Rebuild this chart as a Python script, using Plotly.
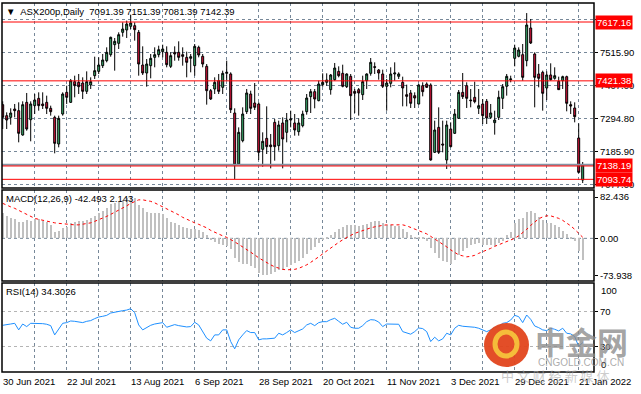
import plotly.graph_objects as go

# ---------------- data ----------------
date_labels = ["30 Jun 2021", "22 Jul 2021", "13 Aug 2021", "6 Sep 2021", "28 Sep 2021",
               "20 Oct 2021", "11 Nov 2021", "3 Dec 2021", "29 Dec 2021", "21 Jan 2022"]
label_step = 16   # bars between date labels
grid_step = 8     # bars between vertical grid lines

ohlc = [
    (7342.2, 7353.3, 7261.2, 7300.0), (7305.6, 7316.6, 7261.2, 7291.1), (7300.0, 7330.0, 7275.6, 7314.4),
    (7327.7, 7344.4, 7300.0, 7322.2), (7322.2, 7349.9, 7216.8, 7246.8), (7241.2, 7353.3, 7239.0, 7342.2),
    (7349.9, 7381.0, 7255.6, 7261.2), (7292.2, 7353.3, 7220.2, 7344.4), (7338.8, 7377.6, 7311.1, 7357.7),
    (7363.2, 7383.2, 7322.2, 7338.8), (7344.4, 7383.2, 7327.7, 7338.8), (7349.9, 7372.1, 7311.1, 7330.0),
    (7330.0, 7338.8, 7305.6, 7318.9), (7300.0, 7305.6, 7180.2, 7213.5), (7211.3, 7305.6, 7200.2, 7296.7),
    (7311.1, 7383.2, 7305.6, 7377.6), (7383.2, 7405.4, 7344.4, 7366.6), (7349.9, 7427.6, 7347.7, 7422.0),
    (7418.7, 7438.6, 7366.6, 7405.4), (7416.5, 7444.2, 7377.6, 7402.0), (7414.2, 7433.1, 7361.0, 7386.5),
    (7386.5, 7453.0, 7377.6, 7418.7), (7407.6, 7433.1, 7394.3, 7418.7), (7438.6, 7501.8, 7427.6, 7455.3),
    (7453.0, 7499.6, 7444.2, 7474.1), (7471.9, 7510.7, 7464.1, 7490.8), (7488.5, 7532.9, 7483.0, 7516.3),
    (7508.5, 7568.4, 7501.8, 7566.2), (7541.8, 7564.0, 7455.3, 7552.9), (7546.2, 7582.8, 7527.4, 7575.0),
    (7582.8, 7616.1, 7568.4, 7593.9), (7590.6, 7621.6, 7564.0, 7610.5), (7602.8, 7641.6, 7593.9, 7613.9),
    (7605.0, 7616.1, 7555.1, 7591.7), (7582.8, 7590.6, 7438.6, 7477.4), (7474.1, 7536.2, 7440.9, 7447.5),
    (7447.5, 7494.1, 7402.0, 7477.4), (7471.9, 7510.7, 7429.8, 7496.3), (7499.6, 7532.9, 7466.4, 7508.5),
    (7508.5, 7538.4, 7499.6, 7525.1), (7518.5, 7541.8, 7499.6, 7527.4), (7516.3, 7536.2, 7466.4, 7475.2),
    (7469.7, 7516.3, 7464.1, 7505.2), (7516.3, 7536.2, 7488.5, 7510.7), (7516.3, 7552.9, 7488.5, 7499.6),
    (7508.5, 7532.9, 7471.9, 7503.0), (7499.6, 7518.5, 7433.1, 7483.0), (7496.3, 7510.7, 7449.7, 7501.8),
    (7471.9, 7544.0, 7438.6, 7536.2), (7532.9, 7538.4, 7499.6, 7507.4), (7503.0, 7510.7, 7466.4, 7477.4),
    (7469.7, 7477.4, 7342.2, 7388.7), (7388.7, 7394.3, 7357.7, 7361.0), (7394.3, 7433.1, 7377.6, 7416.5),
    (7422.0, 7444.2, 7377.6, 7386.5), (7399.8, 7455.3, 7377.6, 7446.4), (7446.4, 7488.5, 7422.0, 7449.7),
    (7444.2, 7449.7, 7314.4, 7325.5), (7314.4, 7330.0, 7094.9, 7141.4), (7144.8, 7266.7, 7141.4, 7250.1),
    (7222.4, 7333.3, 7216.8, 7311.1), (7318.9, 7394.3, 7311.1, 7381.0), (7377.6, 7388.7, 7311.1, 7330.0),
    (7347.7, 7414.2, 7324.4, 7333.3), (7344.4, 7349.9, 7158.1, 7183.6), (7193.6, 7250.1, 7135.9, 7220.2),
    (7230.1, 7336.6, 7178.0, 7202.4), (7208.0, 7244.6, 7130.3, 7202.4), (7283.4, 7294.5, 7155.8, 7202.4),
    (7205.7, 7288.9, 7189.1, 7274.5), (7281.2, 7300.0, 7130.3, 7227.9), (7250.1, 7314.4, 7216.8, 7291.1),
    (7291.1, 7322.2, 7266.7, 7294.5), (7281.2, 7311.1, 7239.0, 7257.9), (7252.3, 7296.7, 7239.0, 7281.2),
    (7272.3, 7322.2, 7266.7, 7311.1), (7318.9, 7377.6, 7308.9, 7364.3), (7368.8, 7394.3, 7314.4, 7385.4),
    (7385.4, 7394.3, 7330.0, 7361.0), (7355.5, 7422.0, 7353.3, 7410.9), (7408.7, 7446.4, 7402.0, 7416.5),
    (7416.5, 7446.4, 7405.4, 7424.2), (7392.1, 7444.2, 7375.4, 7440.9), (7425.3, 7480.8, 7422.0, 7464.1),
    (7453.0, 7469.7, 7433.1, 7438.6), (7446.4, 7475.2, 7399.8, 7403.2), (7402.0, 7446.4, 7397.6, 7444.2),
    (7436.4, 7444.2, 7291.1, 7372.1), (7386.5, 7394.3, 7314.4, 7379.9), (7392.1, 7397.6, 7305.6, 7381.0),
    (7375.4, 7438.6, 7357.7, 7418.7), (7422.0, 7446.4, 7394.3, 7444.2), (7446.4, 7497.4, 7438.6, 7483.0),
    (7468.6, 7483.0, 7444.2, 7466.4), (7457.5, 7460.8, 7425.3, 7447.5), (7444.2, 7458.6, 7397.6, 7403.2),
    (7403.2, 7427.6, 7322.2, 7414.2), (7413.1, 7466.4, 7399.8, 7444.2), (7444.2, 7483.0, 7422.0, 7447.5),
    (7436.4, 7449.7, 7427.6, 7444.2), (7416.5, 7435.3, 7336.6, 7397.6), (7375.4, 7408.7, 7336.6, 7369.9),
    (7381.0, 7391.0, 7331.1, 7346.6), (7372.1, 7383.2, 7331.1, 7364.3), (7344.4, 7410.9, 7342.2, 7407.6),
    (7405.4, 7416.5, 7369.9, 7385.4), (7410.9, 7416.5, 7397.6, 7399.8), (7407.6, 7413.1, 7155.8, 7158.1),
    (7183.6, 7288.9, 7181.3, 7257.9), (7266.7, 7333.3, 7178.0, 7183.6), (7211.3, 7288.9, 7183.6, 7208.0),
    (7158.1, 7288.9, 7128.1, 7274.5), (7261.2, 7283.4, 7200.2, 7202.4), (7246.8, 7327.7, 7244.6, 7311.1),
    (7296.7, 7390.9, 7294.5, 7383.2), (7383.2, 7447.5, 7361.0, 7368.8), (7405.4, 7416.5, 7331.1, 7363.2),
    (7357.7, 7394.3, 7333.3, 7355.5), (7366.6, 7418.7, 7346.6, 7352.1), (7330.0, 7394.3, 7311.1, 7338.8),
    (7344.4, 7361.0, 7277.8, 7305.6), (7353.3, 7361.0, 7277.8, 7297.8), (7300.0, 7344.4, 7294.5, 7314.4),
    (7282.3, 7322.2, 7242.4, 7291.1), (7300.0, 7388.7, 7291.1, 7366.6), (7363.2, 7410.9, 7327.7, 7402.0),
    (7403.2, 7444.2, 7372.1, 7436.4), (7425.3, 7438.6, 7416.5, 7427.6), (7496.3, 7541.8, 7469.7, 7530.7),
    (7503.0, 7532.9, 7499.6, 7524.0), (7508.5, 7544.0, 7422.0, 7433.1), (7488.5, 7646.9, 7469.7, 7607.2),
    (7597.2, 7627.2, 7544.0, 7547.3), (7510.7, 7516.3, 7333.3, 7433.1), (7444.2, 7477.4, 7399.8, 7429.8),
    (7449.7, 7455.3, 7322.2, 7379.9), (7397.6, 7453.0, 7357.7, 7440.9), (7440.9, 7479.7, 7422.0, 7425.3),
    (7429.8, 7466.4, 7425.3, 7438.6), (7419.8, 7435.3, 7391.0, 7392.1), (7422.0, 7438.6, 7394.3, 7435.3),
    (7435.3, 7438.6, 7320.0, 7346.6), (7342.2, 7353.3, 7311.1, 7337.7), (7331.1, 7349.9, 7283.4, 7302.2),
    (7231.3, 7280.0, 7113.7, 7117.0), (7091.39, 7151.39, 7081.39, 7142.39),
]
open_ = [r[0] for r in ohlc]
high = [r[1] for r in ohlc]
low = [r[2] for r in ohlc]
close = [r[3] for r in ohlc]

macd = [50, 45, 41, 38, 32, 33, 37, 35, 38, 38, 35, 33, 27, 13, 15, 20, 23, 30, 33, 35,
        34, 37, 40, 45, 51, 55, 60, 68, 70, 73, 77, 80, 82.436, 81, 67, 60, 53, 50, 50, 50,
        48, 40, 33, 30, 27, 23, 20, 18, 18, 17, 13, 7, -3, -8, -12, -14, -15, -22, -40, -48,
        -52, -52, -55, -60, -70, -73.938, -73, -72, -68, -64, -63, -58, -53, -50, -46, -40, -32, -24, -18, -10,
        -4, 1, 6, 12, 18, 22, 27, 27, 26, 24, 26, 29, 33, 35, 34, 30, 27, 26, 25, 24,
        19, 12, 6, 2, 3, 3, -6, -20, -29, -40, -45, -47, -51, -43, -33, -25, -20, -13, -11, -9,
        -13, -13, -13, -15, -10, -5, 7, 13, 30, 38, 40, 52, 55, 50, 43, 37, 31, 30, 27, 23,
        15, 8, 2, -6, -26, -42.493]
signal = [70, 66, 63, 60, 56, 52, 48, 43, 40, 38, 36, 34, 32, 31, 30, 29, 28, 27, 27, 27,
          28, 29, 31, 34, 37, 40, 44, 48, 52, 56, 60, 65, 70, 74, 77, 77, 76, 74, 71, 67,
          64, 60, 56, 52, 47, 42, 38, 34, 31, 28, 25, 21, 16, 12, 8, 5, 2, -2, -7, -12,
          -17, -22, -28, -33, -39, -44, -49, -53, -57, -60, -62, -63, -63, -62, -60, -57, -53, -48, -43, -37,
          -31, -25, -19, -13, -8, -3, 2, 6, 10, 13, 16, 19, 21, 23, 25, 26, 27, 27, 28, 28,
          27, 25, 22, 19, 15, 12, 9, 4, -1, -6, -12, -17, -23, -28, -33, -35, -37, -36, -34, -30,
          -27, -23, -20, -16, -13, -10, -7, -4, 0, 5, 11, 18, 26, 33, 39, 43, 45, 45, 43, 40,
          36, 31, 25, 18, 11, 2.143]
rsi = [54.3, 54.7, 55.8, 56.6, 49.0, 55.8, 52.8, 56.6, 56.6, 56.2, 56.2, 55.5, 53.9, 43.2, 49.7, 56.6,
       57.4, 59.3, 58.9, 58.1, 57.4, 58.9, 59.7, 62.0, 63.9, 64.7, 65.8, 68.5, 69.6, 70.8, 71.2, 71.9,
       73.5, 68.9, 54.7, 49.0, 51.6, 54.3, 55.8, 57.0, 57.4, 52.0, 53.9, 55.1, 53.9, 52.8, 52.4, 52.8,
       57.8, 54.7, 47.0, 39.4, 36.3, 43.2, 43.2, 49.0, 49.0, 35.5, 27.1, 37.5, 43.2, 48.2, 45.9, 45.9,
       37.5, 38.6, 38.6, 38.6, 39.4, 45.1, 43.2, 45.9, 49.0, 45.9, 47.8, 50.1, 54.7, 56.6, 53.9, 57.4,
       58.5, 58.5, 60.8, 62.4, 58.9, 55.5, 57.8, 52.0, 50.9, 50.9, 53.9, 58.5, 60.8, 60.4, 58.1, 52.8,
       55.8, 55.8, 55.8, 55.5, 47.0, 45.9, 44.0, 47.0, 51.2, 50.5, 47.0, 35.5, 40.5, 36.3, 38.6, 45.1,
       43.2, 50.9, 54.3, 53.2, 52.8, 52.8, 52.0, 50.9, 49.3, 47.0, 49.0, 51.6, 52.8, 56.6, 57.4, 60.4,
       65.8, 64.3, 57.4, 66.2, 61.2, 53.5, 51.6, 49.0, 48.2, 50.9, 49.7, 47.8, 50.9, 45.1, 44.4, 41.3,
       29.8, 34.3026]

price_ticks = [7077.00, 7185.90, 7294.80, 7407.00, 7515.90, 7624.80]
price_tick_text = ["7077.00", "7185.90", "7294.80", "7407.00", "7515.90", ""]
level_lines = [7617.16, 7421.38, 7138.19, 7093.74]
macd_ticks = [-73.938, 0.0, 82.436]
rsi_levels = [30, 70]

# ---------------- layout constants ----------------
W, H = 641, 394
ML, MR, MT, MB = 2, 47, 3, 22
PH = H - MT - MB
PW = W - ML - MR
FONT = "Liberation Sans, Arial, sans-serif"
FS = 9.5
GRID = "#778899"
DASH = "3px,3px"

def py(pix):  # pixel row -> paper y
    return (H - MB - pix) / PH

def px(pix):  # pixel column -> paper x
    return (pix - ML) / PW

dom_main = [py(188), 1.0]
dom_macd = [py(281), py(190)]
dom_rsi = [0.0, py(283)]

n = len(close)
xs = list(range(n))
xr = [-0.175, 147.825]
grid_x = list(range(grid_step, n, grid_step))

fig = go.Figure()
fig.add_trace(go.Candlestick(
    x=xs, open=open_, high=high, low=low, close=close,
    increasing=dict(fillcolor="#3cb371", line=dict(color="black", width=1)),
    decreasing=dict(fillcolor="#dc143c", line=dict(color="black", width=1)),
    whiskerwidth=0, xaxis="x", yaxis="y", hoverinfo="skip"))
fig.add_trace(go.Bar(x=xs, y=macd, marker=dict(color="#c0c0c0", line=dict(width=0)),
                     width=0.3, xaxis="x2", yaxis="y2"))
fig.add_trace(go.Scatter(x=xs, y=signal, mode="lines",
                         line=dict(color="red", width=1, dash="dot"), xaxis="x2", yaxis="y2"))
fig.add_trace(go.Scatter(x=xs, y=rsi, mode="lines",
                         line=dict(color="#1e90ff", width=1), xaxis="x3", yaxis="y3"))

xcommon = dict(range=xr, tickvals=grid_x, showticklabels=False, ticks="",
               showgrid=True, gridcolor=GRID, griddash=DASH, gridwidth=1,
               zeroline=False, showline=False, fixedrange=True, automargin=False)
ycommon = dict(side="right", ticks="outside", ticklen=3, tickcolor="black",
               tickfont=dict(family=FONT, size=FS, color="black"),
               zeroline=False, showline=False, fixedrange=True, automargin=False)

fig.update_layout(
    width=W, height=H, margin=dict(l=ML, r=MR, t=MT, b=MB, autoexpand=False),
    paper_bgcolor="white", plot_bgcolor="white", showlegend=False,
    bargap=0,
    xaxis=dict(**xcommon, anchor="y", rangeslider=dict(visible=False)),
    xaxis2=dict(**xcommon, anchor="y2", matches="x"),
    xaxis3=dict(**xcommon, anchor="y3", matches="x"),
    yaxis=dict(**ycommon, domain=dom_main, anchor="x", range=[7064.9, 7680.4],
               tickvals=price_ticks, ticktext=price_tick_text,
               showgrid=True, gridcolor=GRID, griddash=DASH),
    yaxis2=dict(**ycommon, domain=dom_macd, anchor="x2", range=[-85.3, 96.7],
                tickvals=macd_ticks,
                ticktext=[("%.3f" % v) if v != 0 else "0.00" for v in macd_ticks],
                showgrid=False),
    yaxis3=dict(**ycommon, domain=dom_rsi, anchor="x3", range=[0.3, 103.2],
                tickvals=rsi_levels, ticktext=[str(v) for v in rsi_levels],
                showgrid=True, gridcolor="#b4b4b4", griddash=DASH),
)

shapes = []
shapes.append(dict(type="line", xref="paper", x0=0, x1=1, yref="y2", y0=0, y1=0,
                   line=dict(color=GRID, width=1, dash=DASH), layer="below"))
shapes.append(dict(type="line", xref="paper", x0=0, x1=1, yref="y", y0=close[-1], y1=close[-1],
                   line=dict(color="#8494a4", width=2)))
for lv in level_lines:
    shapes.append(dict(type="line", xref="paper", x0=0, x1=1, yref="y", y0=lv, y1=lv,
                       line=dict(color="#ff0000", width=1)))
for d in (dom_main, dom_macd, dom_rsi):
    shapes.append(dict(type="rect", xref="paper", yref="paper", x0=0, x1=1, y0=d[0], y1=d[1],
                       line=dict(color="black", width=1.5), fillcolor="rgba(0,0,0,0)"))
shapes.append(dict(type="circle", xref="paper", yref="paper",
                   x0=px(484), x1=px(529), y0=py(367), y1=py(323),
                   fillcolor="#e2451c", line=dict(width=0), opacity=0.95))
shapes.append(dict(type="circle", xref="paper", yref="paper",
                   x0=px(495), x1=px(517), y0=py(356), y1=py(332),
                   fillcolor="rgba(0,0,0,0)", line=dict(color="#f7c23c", width=5), opacity=0.95))
fig.update_layout(shapes=shapes)

ann = []
tf = dict(family=FONT, size=FS, color="black")
ann.append(dict(xref="paper", yref="paper", x=px(4), y=1, xanchor="left", yanchor="top",
                yshift=-1, showarrow=False, font=tf,
                text="\u25BC  ASX200p,Daily  " + " ".join(f"{v:.2f}" for v in
                      (open_[-1], high[-1], low[-1], close[-1]))))
ann.append(dict(xref="paper", yref="paper", x=px(4), y=dom_macd[1], xanchor="left", yanchor="top",
                yshift=-1, showarrow=False, font=tf,
                text=f"MACD(12,26,9) {macd[-1]:.3f} {signal[-1]:.3f}"))
ann.append(dict(xref="paper", yref="paper", x=px(4), y=dom_rsi[1], xanchor="left", yanchor="top",
                yshift=-1, showarrow=False, font=tf,
                text=f"RSI(14) {rsi[-1]:.4f}"))
ann.append(dict(xref="paper", yref="paper", x=1, y=dom_rsi[1], xanchor="left", yanchor="top",
                xshift=5, showarrow=False, font=tf, text="100"))
ann.append(dict(xref="paper", yref="paper", x=1, y=0, xanchor="left", yanchor="bottom",
                xshift=5, showarrow=False, font=tf, text="0"))
for lv in level_lines:
    ann.append(dict(xref="paper", yref="y", x=1, y=lv, xanchor="left", yanchor="middle",
                    xshift=1, showarrow=False, bgcolor="#ff0000", borderpad=1,
                    font=dict(family=FONT, size=FS, color="white"), text=f"{lv:.2f}"))
for k, lbl in enumerate(date_labels):
    ann.append(dict(xref="x3", yref="paper", x=k * label_step, y=0, xanchor="left", yanchor="top",
                    xshift=-2, yshift=-2, showarrow=False, font=tf, text=lbl))
ann.append(dict(xref="paper", yref="paper", x=px(581), y=py(340), xanchor="center", yanchor="middle",
                showarrow=False,
                font=dict(family="Noto Sans CJK SC", size=31, color="rgba(140,140,140,0.8)"),
                text="<b>中金网</b>"))
ann.append(dict(xref="paper", yref="paper", x=px(581), y=py(362), xanchor="center", yanchor="middle",
                showarrow=False,
                font=dict(family="Liberation Sans", size=10, color="rgba(150,150,150,0.8)"),
                text="CNGOLD.COM.CN"))
ann.append(dict(xref="paper", yref="paper", x=px(555), y=py(375), xanchor="center", yanchor="middle",
                showarrow=False,
                font=dict(family="Noto Sans CJK SC", size=13, color="rgba(170,170,170,0.6)"),
                text="中 文 财 经 新 媒 体"))
fig.update_layout(annotations=ann)

fig.write_html("out.html", config={"displayModeBar": False},
               post_script="document.body.style.margin='0';")
